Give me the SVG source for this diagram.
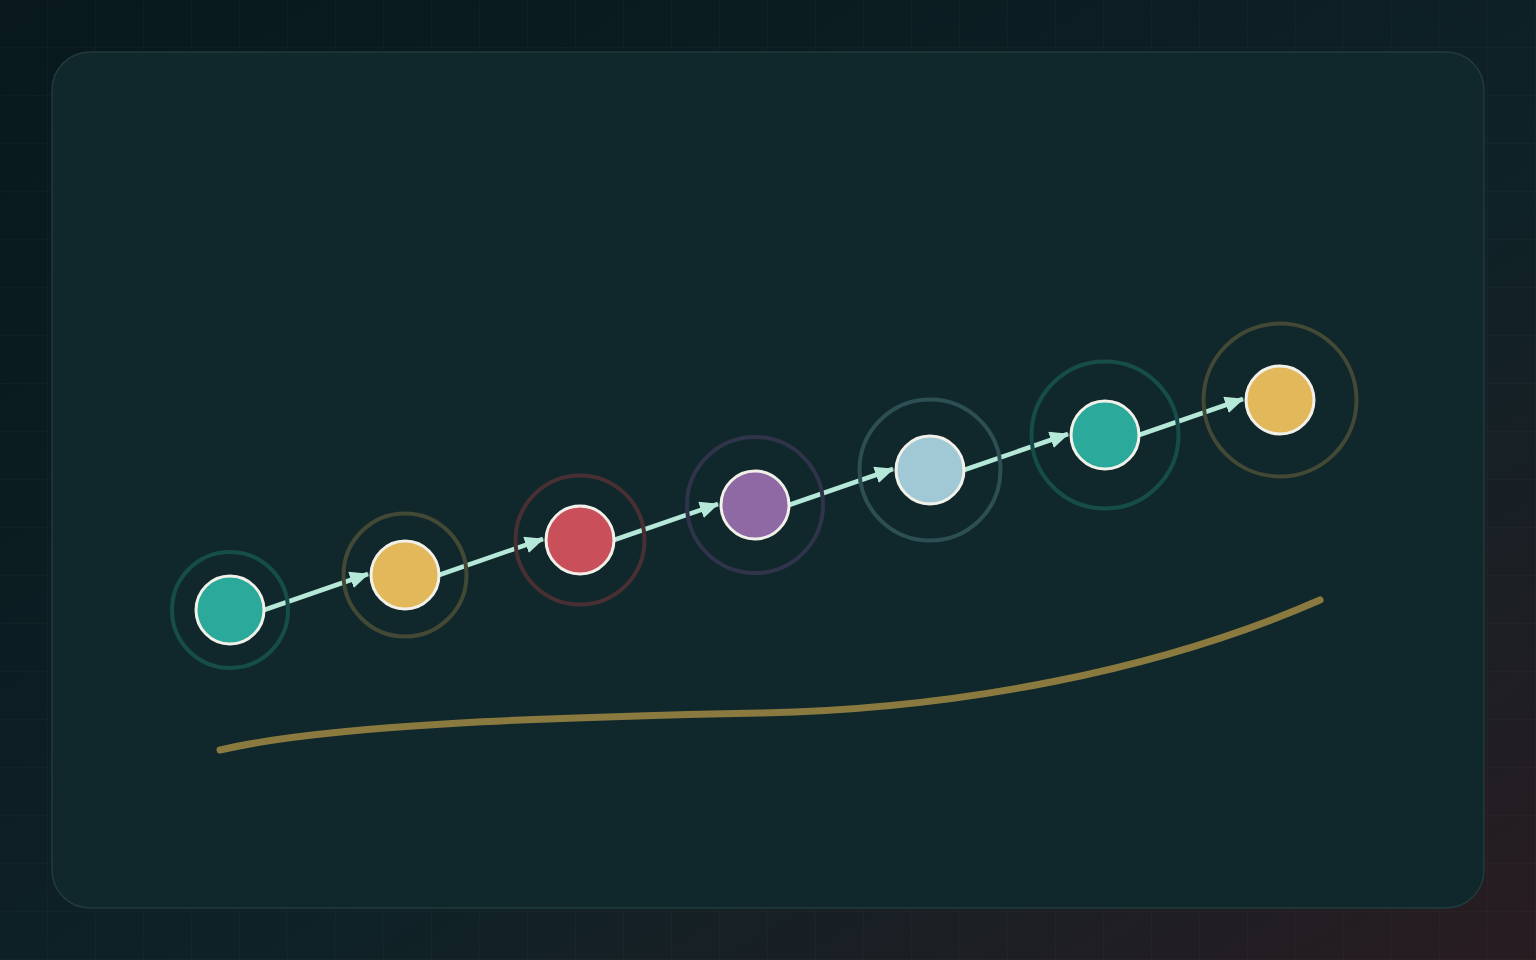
<svg xmlns="http://www.w3.org/2000/svg" width="1536" height="960" viewBox="0 0 1536 960">
<defs>
<linearGradient id="bg" x1="0" y1="0" x2="1" y2="1">
<stop offset="0" stop-color="#08181d"/>
<stop offset="0.6" stop-color="#0f2227"/>
<stop offset="1" stop-color="#281c21"/>
</linearGradient>
<pattern id="grid" width="48" height="48" patternUnits="userSpaceOnUse">
<path d="M48 0 V48 M0 48 H48" fill="none" stroke="#ffffff" stroke-opacity="0.035" stroke-width="1"/>
</pattern>
<marker id="arr" viewBox="0 0 19 17" refX="18" refY="8.5" markerWidth="19" markerHeight="17" orient="auto" markerUnits="userSpaceOnUse">
<path d="M0 0 L19 8.5 L0 17 Z" fill="#b5e8d8"/>
</marker>
</defs>
<style>
.ring{fill:none;stroke-width:4}
.dot{stroke:#f1f1ea;stroke-width:3}
.edge{fill:none;stroke:#b5e8d8;stroke-width:4.5;marker-end:url(#arr)}
</style>
<rect width="1536" height="960" fill="url(#bg)"/>
<rect width="1536" height="960" fill="url(#grid)"/>
<rect x="52" y="52" width="1432" height="856" rx="38" fill="#10282b" stroke="#213a3d" stroke-width="1.5"/>
<path id="trend" d="M220 750 C330 724 560 717 760 713 C960 709 1160 670 1320 600" fill="none" stroke="#8b7a3f" stroke-width="7" stroke-linecap="round"/>
<g id="connectors">
<line class="edge" x1="264" y1="610" x2="368" y2="574"/>
<line class="edge" x1="439" y1="575" x2="543" y2="539"/>
<line class="edge" x1="614" y1="540" x2="718" y2="504"/>
<line class="edge" x1="789" y1="505" x2="893" y2="469"/>
<line class="edge" x1="964" y1="470" x2="1068" y2="434"/>
<line class="edge" x1="1139" y1="435" x2="1243" y2="399"/>
</g>
<g id="n1"><circle class="ring" cx="230" cy="610" r="58" stroke="#174d48"/><circle class="dot" cx="230" cy="610" r="34" fill="#2ba99b"/></g>
<g id="n2"><circle class="ring" cx="405" cy="575" r="61.5" stroke="#434934"/><circle class="dot" cx="405" cy="575" r="34" fill="#e2b85a"/></g>
<g id="n3"><circle class="ring" cx="580" cy="540" r="64.5" stroke="#472f33"/><circle class="dot" cx="580" cy="540" r="34" fill="#c9505a"/></g>
<g id="n4"><circle class="ring" cx="755" cy="505" r="68" stroke="#30344a"/><circle class="dot" cx="755" cy="505" r="34" fill="#8f69a3"/></g>
<g id="n5"><circle class="ring" cx="930" cy="470" r="70.5" stroke="#2d4f54"/><circle class="dot" cx="930" cy="470" r="34" fill="#a0c8d5"/></g>
<g id="n6"><circle class="ring" cx="1105" cy="435" r="73.5" stroke="#174d48"/><circle class="dot" cx="1105" cy="435" r="34" fill="#2ba99b"/></g>
<g id="n7"><circle class="ring" cx="1280" cy="400" r="76.5" stroke="#434934"/><circle class="dot" cx="1280" cy="400" r="34" fill="#e2b85a"/></g>
</svg>
